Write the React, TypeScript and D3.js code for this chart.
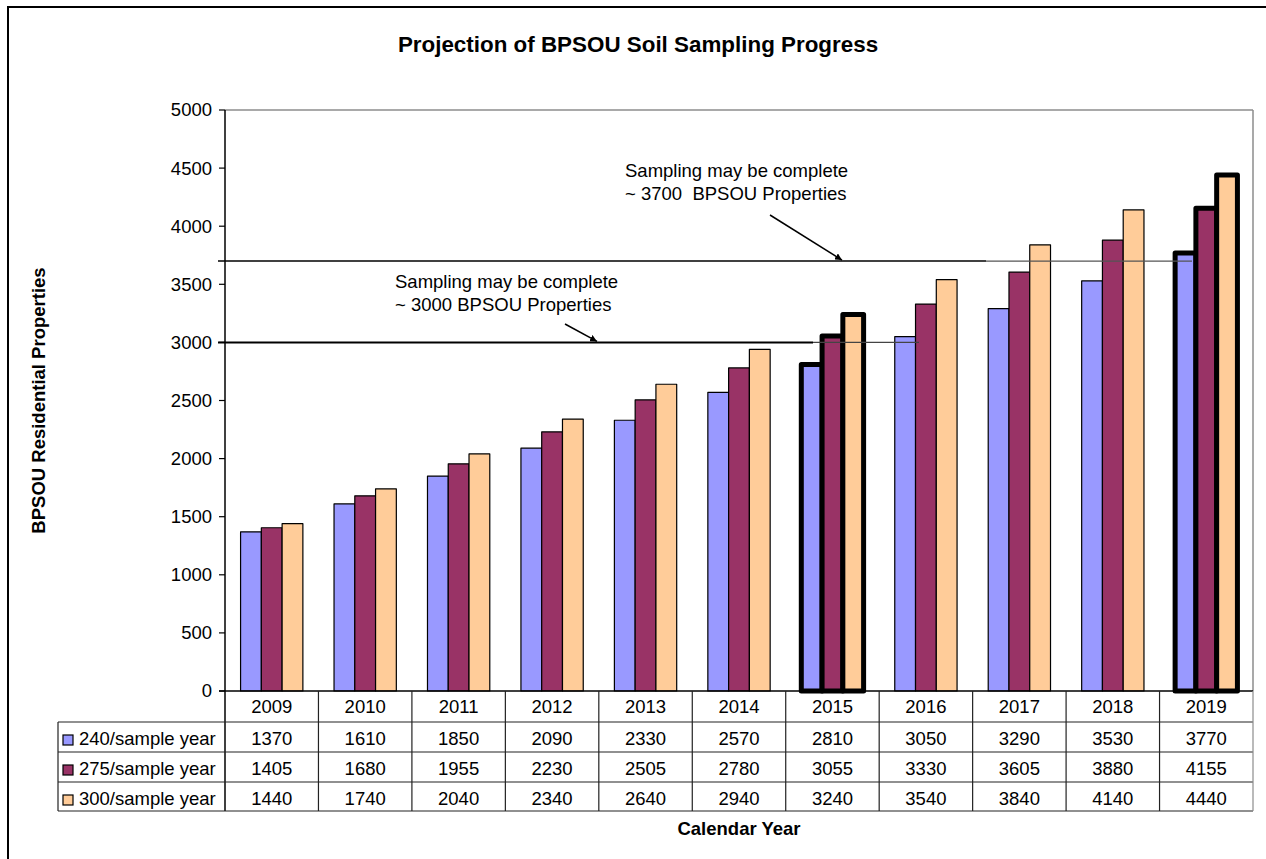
import React from "react";
import * as d3 from "d3";

const years = ["2009","2010","2011","2012","2013","2014","2015","2016","2017","2018","2019"];
const s240 = [1370,1610,1850,2090,2330,2570,2810,3050,3290,3530,3770];
const s275 = [1405,1680,1955,2230,2505,2780,3055,3330,3605,3880,4155];
const s300 = [1440,1740,2040,2340,2640,2940,3240,3540,3840,4140,4440];
const seriesNames = ["240/sample year","275/sample year","300/sample year"];
const seriesColors = ["#9999FF","#993366","#FFCC99"];
const highlightYears = ["2015","2019"];
const yTicks = [0,500,1000,1500,2000,2500,3000,3500,4000,4500,5000];
const refValues = [3000, 3700];
const refLabels1 = ["Sampling may be complete", "Sampling may be complete"];
const refLabels2 = ["~ 3000 BPSOU Properties", "~ 3700  BPSOU Properties"];

const FONT = "'Liberation Sans', Arial, Helvetica, sans-serif";
const FS = 18.5;

export default function App() {
  const W = 1266, H = 859;
  const left = 225, right = 1253, top = 110, bottom = 691;
  const x = d3.scaleBand<string>().domain(years).range([left, right]).paddingInner(0).paddingOuter(0);
  const inner = d3.scaleBand<number>().domain([0,1,2]).range([0, x.bandwidth()]).paddingInner(0).paddingOuter(0.75);
  const y = d3.scaleLinear().domain([0, 5000]).range([bottom, top]);
  const series = [s240, s275, s300];
  const tableTop = bottom;
  const rowTops = [tableTop, tableTop + 31, tableTop + 61, tableTop + 91];
  const tableBottom = tableTop + 120;
  const legendLeft = 58;

  const y3000 = y(refValues[0]);
  const y3700 = y(refValues[1]);

  return (
    <svg width={W} height={H} style={{ position: "fixed", left: 0, top: 0, background: "#fff" }} fontFamily={FONT}>
      <rect x={0} y={0} width={W} height={H} fill="#fff" />
      <rect x={8} y={7} width={W + 20} height={H + 20} fill="none" stroke="#000" strokeWidth={2} />
      <text x={638} y={52} textAnchor="middle" fontSize={22.4} fontWeight="bold">Projection of BPSOU Soil Sampling Progress</text>

      {/* plot border */}
      <line x1={left} y1={top} x2={right} y2={top} stroke="#8c8c8c" strokeWidth={1.5} />
      <line x1={right} y1={top} x2={right} y2={bottom} stroke="#8c8c8c" strokeWidth={1.5} />

      {/* bars */}
      {years.map((yr, i) => (
        <g key={yr}>
          {series.map((s, k) => {
            const hl = highlightYears.includes(yr);
            const bx = (x(yr) as number) + (inner(k) as number);
            return (
              <rect key={k} x={bx} y={y(s[i])} width={inner.bandwidth()} height={bottom - y(s[i])}
                fill={seriesColors[k]} stroke="#000" strokeWidth={hl ? 5 : 1.2} strokeLinejoin="round" />
            );
          })}
        </g>
      ))}

      {/* y axis */}
      <line x1={left} y1={top} x2={left} y2={tableBottom} stroke="#000" strokeWidth={1.5} />
      {yTicks.map((t) => (
        <g key={t}>
          <line x1={219} x2={left} y1={y(t)} y2={y(t)} stroke="#000" strokeWidth={1.2} />
          <text x={212} y={y(t)} dy="0.35em" textAnchor="end" fontSize={FS}>{t}</text>
        </g>
      ))}
      <text transform={`translate(45,${(top + bottom) / 2}) rotate(-90)`} textAnchor="middle" fontSize={FS} fontWeight="bold">BPSOU Residential Properties</text>

      {/* reference lines */}
      <line x1={218} x2={813} y1={y3000} y2={y3000} stroke="#000" strokeWidth={2} />
      <line x1={813} x2={919} y1={y3000} y2={y3000} stroke="#444" strokeWidth={1.2} />
      <line x1={218} x2={986} y1={y3700} y2={y3700} stroke="#000" strokeWidth={1.6} />
      <line x1={986} x2={1192} y1={y3700} y2={y3700} stroke="#555" strokeWidth={1.2} />

      <defs>
        <marker id="ah" viewBox="0 0 10 10" refX={10} refY={5} markerWidth={7} markerHeight={7} orient="auto" markerUnits="userSpaceOnUse">
          <path d="M0,0 L10,5 L0,10 z" fill="#000" />
        </marker>
      </defs>
      <line x1={565} y1={324} x2={597} y2={y3000 - 1} stroke="#000" strokeWidth={1.5} markerEnd="url(#ah)" />
      <line x1={770} y1={215} x2={842} y2={y3700 - 1} stroke="#000" strokeWidth={1.5} markerEnd="url(#ah)" />

      <text x={395} y={288} fontSize={FS}>{refLabels1[0]}</text>
      <text x={395} y={311} fontSize={FS} style={{ whiteSpace: "pre" }}>{refLabels2[0]}</text>
      <text x={625} y={177} fontSize={FS}>{refLabels1[1]}</text>
      <text x={625} y={200} fontSize={FS} style={{ whiteSpace: "pre" }}>{refLabels2[1]}</text>

      {/* data table */}
      <line x1={219} x2={right} y1={bottom} y2={bottom} stroke="#000" strokeWidth={1.5} />
      {rowTops.slice(1).map((ry) => (
        <line key={ry} x1={legendLeft} x2={right} y1={ry} y2={ry} stroke="#222" strokeWidth={1.2} />
      ))}
      <line x1={legendLeft} x2={right} y1={tableBottom} y2={tableBottom} stroke="#222" strokeWidth={1.2} />
      <line x1={legendLeft} x2={legendLeft} y1={rowTops[1]} y2={tableBottom} stroke="#222" strokeWidth={1.2} />
      {years.map((yr) => (
        <line key={"v" + yr} x1={(x(yr) as number) + x.bandwidth()} x2={(x(yr) as number) + x.bandwidth()} y1={bottom} y2={tableBottom}
          stroke={yr === years[years.length - 1] ? "#8c8c8c" : "#222"} strokeWidth={1.2} />
      ))}
      {years.map((yr) => (
        <text key={"h" + yr} x={(x(yr) as number) + x.bandwidth() / 2} y={rowTops[0] + 22} textAnchor="middle" fontSize={FS}>{yr}</text>
      ))}
      {series.map((s, k) => (
        <g key={"r" + k}>
          <rect x={63} y={rowTops[k + 1] + 13} width={10} height={10} fill={seriesColors[k]} stroke="#000" strokeWidth={1.2} />
          <text x={79} y={rowTops[k + 1] + 23} fontSize={FS}>{seriesNames[k]}</text>
          {years.map((yr, i) => (
            <text key={yr} x={(x(yr) as number) + x.bandwidth() / 2} y={rowTops[k + 1] + 23} textAnchor="middle" fontSize={FS}>{s[i]}</text>
          ))}
        </g>
      ))}

      <text x={(left + right) / 2} y={835} textAnchor="middle" fontSize={FS} fontWeight="bold">Calendar Year</text>
    </svg>
  );
}
